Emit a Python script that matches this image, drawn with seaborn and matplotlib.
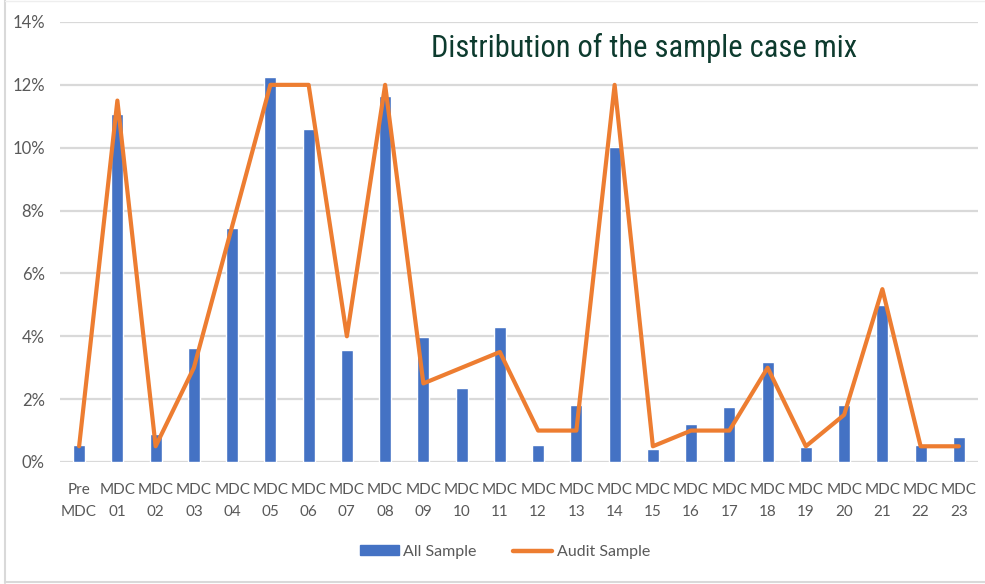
import matplotlib
matplotlib.use("Agg")
import matplotlib.pyplot as plt
from matplotlib import font_manager
from matplotlib.lines import Line2D
from matplotlib.patches import Patch
import seaborn as sns
import pandas as pd

categories = ["Pre\nMDC"] + [f"MDC\n{i:02d}" for i in range(1, 24)]
all_sample = [0.54, 11.07, 0.89, 3.63, 7.45, 12.25, 10.60, 3.55, 11.65, 3.98,
              2.34, 4.30, 0.53, 1.80, 10.02, 0.40, 1.22, 1.76, 3.17, 0.47,
              1.80, 5.00, 0.53, 0.80]
audit_sample = [0.5, 11.5, 0.5, 3.0, 7.5, 12.0, 12.0, 4.0, 12.0, 2.5,
                3.0, 3.5, 1.0, 1.0, 12.0, 0.5, 1.0, 1.0, 3.0, 0.5,
                1.5, 5.5, 0.5, 0.5]
y_ticks = [0, 2, 4, 6, 8, 10, 12, 14]
title = "Distribution of the sample case mix"

df = pd.DataFrame({"cat": categories, "All Sample": all_sample,
                   "Audit Sample": audit_sample})

sns.set_style("white")
available = {f.name for f in font_manager.fontManager.ttflist}
base_font = "Lato" if "Lato" in available else "DejaVu Sans"
plt.rcParams["font.family"] = [base_font, "DejaVu Sans"]

narrow = None
for cand in ["Liberation Sans Narrow", "Arial Narrow", "Roboto Condensed",
             "Open Sans Condensed", "Noto Sans Condensed", "DejaVu Sans Condensed"]:
    if cand in available:
        narrow = cand
        break

BLUE = "#4472C4"
ORANGE = "#ED7D31"
GRAY_TXT = "#595959"

fig = plt.figure(figsize=(9.85, 5.84), dpi=100)
ax = fig.add_axes([60 / 985, 1 - 462 / 584, 918 / 985, 440 / 584])

sns.barplot(data=df, x="cat", y="All Sample", color=BLUE, width=0.32,
            saturation=1, ax=ax, zorder=2)
sns.lineplot(x=list(range(len(categories))), y=audit_sample, color=ORANGE,
             linewidth=3.0, ax=ax, zorder=3)

ax.set_xlim(-0.5, len(categories) - 0.5)
ax.set_ylim(0, 14)
ax.set_yticks(y_ticks)
ax.set_yticklabels([f"{v}%" for v in y_ticks], fontsize=12)
ax.set_xticks(range(len(categories)))
ax.set_xticklabels(categories, linespacing=1.7, fontsize=11)
ax.set_xlabel("")
ax.set_ylabel("")
ax.grid(axis="y", color="#D9D9D9", linewidth=1.6, zorder=0)
ax.set_axisbelow(True)
for s in ax.spines.values():
    s.set_visible(False)
ax.tick_params(axis="both", length=0, labelcolor=GRAY_TXT)
ax.tick_params(axis="x", pad=15)
ax.tick_params(axis="y", pad=11)

if narrow:
    ax.text(0.404, 0.94, title, transform=ax.transAxes, family=[narrow, "DejaVu Sans"],
            fontsize=22, color="#0D3B2E", ha="left", va="center")
else:
    ax.text(0.404, 0.94, title, transform=ax.transAxes,
            fontsize=18, color="#0D3B2E", ha="left", va="center")

handles = [Patch(facecolor=BLUE, edgecolor=BLUE, label="All Sample"),
           Line2D([0], [0], color=ORANGE, linewidth=3.2, label="Audit Sample")]
fig.legend(handles=handles, loc="center", bbox_to_anchor=(505 / 985, 1 - 552 / 584),
           ncol=2, frameon=False, fontsize=11.5, labelcolor=GRAY_TXT,
           handlelength=2.4, handleheight=0.6, columnspacing=2.3, handletextpad=0.3)

# outer chart border
fig.add_artist(Line2D([5 / 985, 5 / 985], [0.002, 1.0], transform=fig.transFigure,
                      color="#D9D9D9", linewidth=1.5))
fig.add_artist(Line2D([5 / 985, 1.0], [1 - 582 / 584, 1 - 582 / 584],
                      transform=fig.transFigure, color="#D9D9D9", linewidth=1.5))
fig.add_artist(Line2D([5 / 985, 1.0], [0.999, 0.999], transform=fig.transFigure,
                      color="#EEEEEE", linewidth=1.0))

fig.savefig("out.png", dpi=100)
